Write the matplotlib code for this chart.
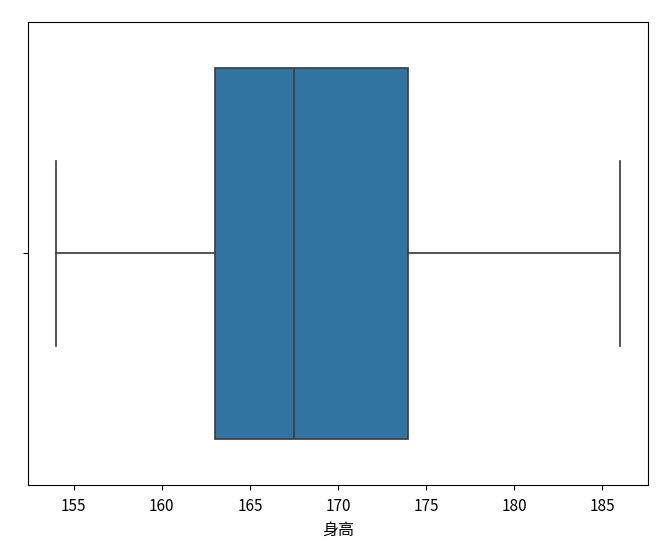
import matplotlib
matplotlib.use("Agg")
import matplotlib.pyplot as plt

plt.rcParams['font.family'] = ['Noto Sans CJK SC', 'DejaVu Sans']
plt.rcParams['axes.unicode_minus'] = False

# box statistics (身高)
label = "身高"
whisker_low = 154
q1 = 163
median = 167.5
q3 = 174
whisker_high = 186

stats = [{
    "whislo": whisker_low,
    "q1": q1,
    "med": median,
    "q3": q3,
    "whishi": whisker_high,
    "fliers": [],
}]

fig = plt.figure(figsize=(6.7, 5.44), dpi=100)
ax = fig.add_axes([0.0418, 0.1085, 0.9254, 0.8511])

line_col = "#3f3f3f"
ax.bxp(stats, positions=[0], widths=0.8, capwidths=0.4, vert=False,
       patch_artist=True, showfliers=False,
       boxprops=dict(facecolor="#3274a1", edgecolor=line_col, linewidth=1.25),
       medianprops=dict(color=line_col, linewidth=1.25),
       whiskerprops=dict(color=line_col, linewidth=1.25),
       capprops=dict(color=line_col, linewidth=1.25))

ax.set_ylim(0.5, -0.5)
ax.set_yticks([0])
ax.set_yticklabels([""])
ax.set_xlim(whisker_low - 0.05 * (whisker_high - whisker_low),
            whisker_high + 0.05 * (whisker_high - whisker_low))
ax.set_xticks([155, 160, 165, 170, 175, 180, 185])
ax.tick_params(axis="x", labelsize=11, pad=6)
ax.set_xlabel(label, fontsize=11.5, labelpad=5)

fig.savefig("out.png", dpi=100)
